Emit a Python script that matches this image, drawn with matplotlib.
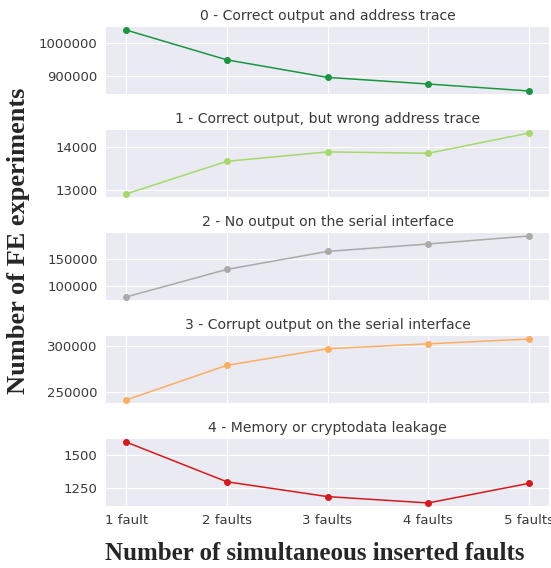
import matplotlib
matplotlib.use("Agg")
import matplotlib.pyplot as plt
import seaborn as sns

sns.set_style("darkgrid")
plt.rcParams["font.family"] = ["DejaVu Sans"]

# Fault-injection outcome counts per number of simultaneous faults
categories = ["1 fault", "2 faults", "3 faults", "4 faults", "5 faults"]
titles = [
    "0 - Correct output and address trace",
    "1 - Correct output, but wrong address trace",
    "2 - No output on the serial interface",
    "3 - Corrupt output on the serial interface",
    "4 - Memory or cryptodata leakage",
]
correct_trace = [1039000, 949000, 896000, 876000, 855000]
wrong_trace = [12920, 13665, 13880, 13848, 14310]
no_output = [79000, 131000, 165000, 179000, 194000]
corrupt_output = [241500, 279000, 297000, 302300, 307500]
leakage = [1600, 1300, 1188, 1140, 1288]

series = [correct_trace, wrong_trace, no_output, corrupt_output, leakage]
colors = ["#1a9641", "#a6d96a", "#aaaaaa", "#fdae61", "#d7191c"]
yticks = [
    [900000, 1000000],
    [13000, 14000],
    [100000, 150000],
    [250000, 300000],
    [1250, 1500],
]

W, H = 551, 568
fig = plt.figure(figsize=(W / 100, H / 100), dpi=100)

left, right = 106, 549
tops = [27, 130, 233, 336, 439]
height = 67
x = list(range(len(categories)))
text_col = "#3a3a3a"

for i, (vals, col, title, yt) in enumerate(zip(series, colors, titles, yticks)):
    top = tops[i]
    ax = fig.add_axes([left / W, 1 - (top + height) / H, (right - left) / W, height / H])
    ax.plot(x, vals, color=col, lw=1.1, marker="o", ms=4)
    ax.set_title(title, fontsize=10.1, color=text_col, pad=5)
    ax.set_yticks(yt)
    ax.set_yticklabels([str(v) for v in yt])
    ax.set_xticks(x)
    ax.set_xlim(-0.2, 4.2)
    ax.tick_params(axis="y", labelsize=9.5, colors=text_col, length=0, pad=6)
    if i == len(series) - 1:
        ax.set_xticklabels(categories)
        ax.tick_params(axis="x", labelsize=9.5, colors=text_col, length=0, pad=6)
    else:
        ax.set_xticklabels([])
        ax.tick_params(axis="x", length=0)
    for s in ax.spines.values():
        s.set_visible(False)

fig.text(315 / W, 1 - 553 / H, "Number of simultaneous inserted faults",
         family="Liberation Serif", fontweight="bold", fontsize=18,
         ha="center", va="center")
fig.text(19 / W, 1 - 241 / H, "Number of FE experiments",
         family="Liberation Serif", fontweight="bold", fontsize=19,
         ha="center", va="center", rotation=90)

fig.savefig("out.png", dpi=100)
